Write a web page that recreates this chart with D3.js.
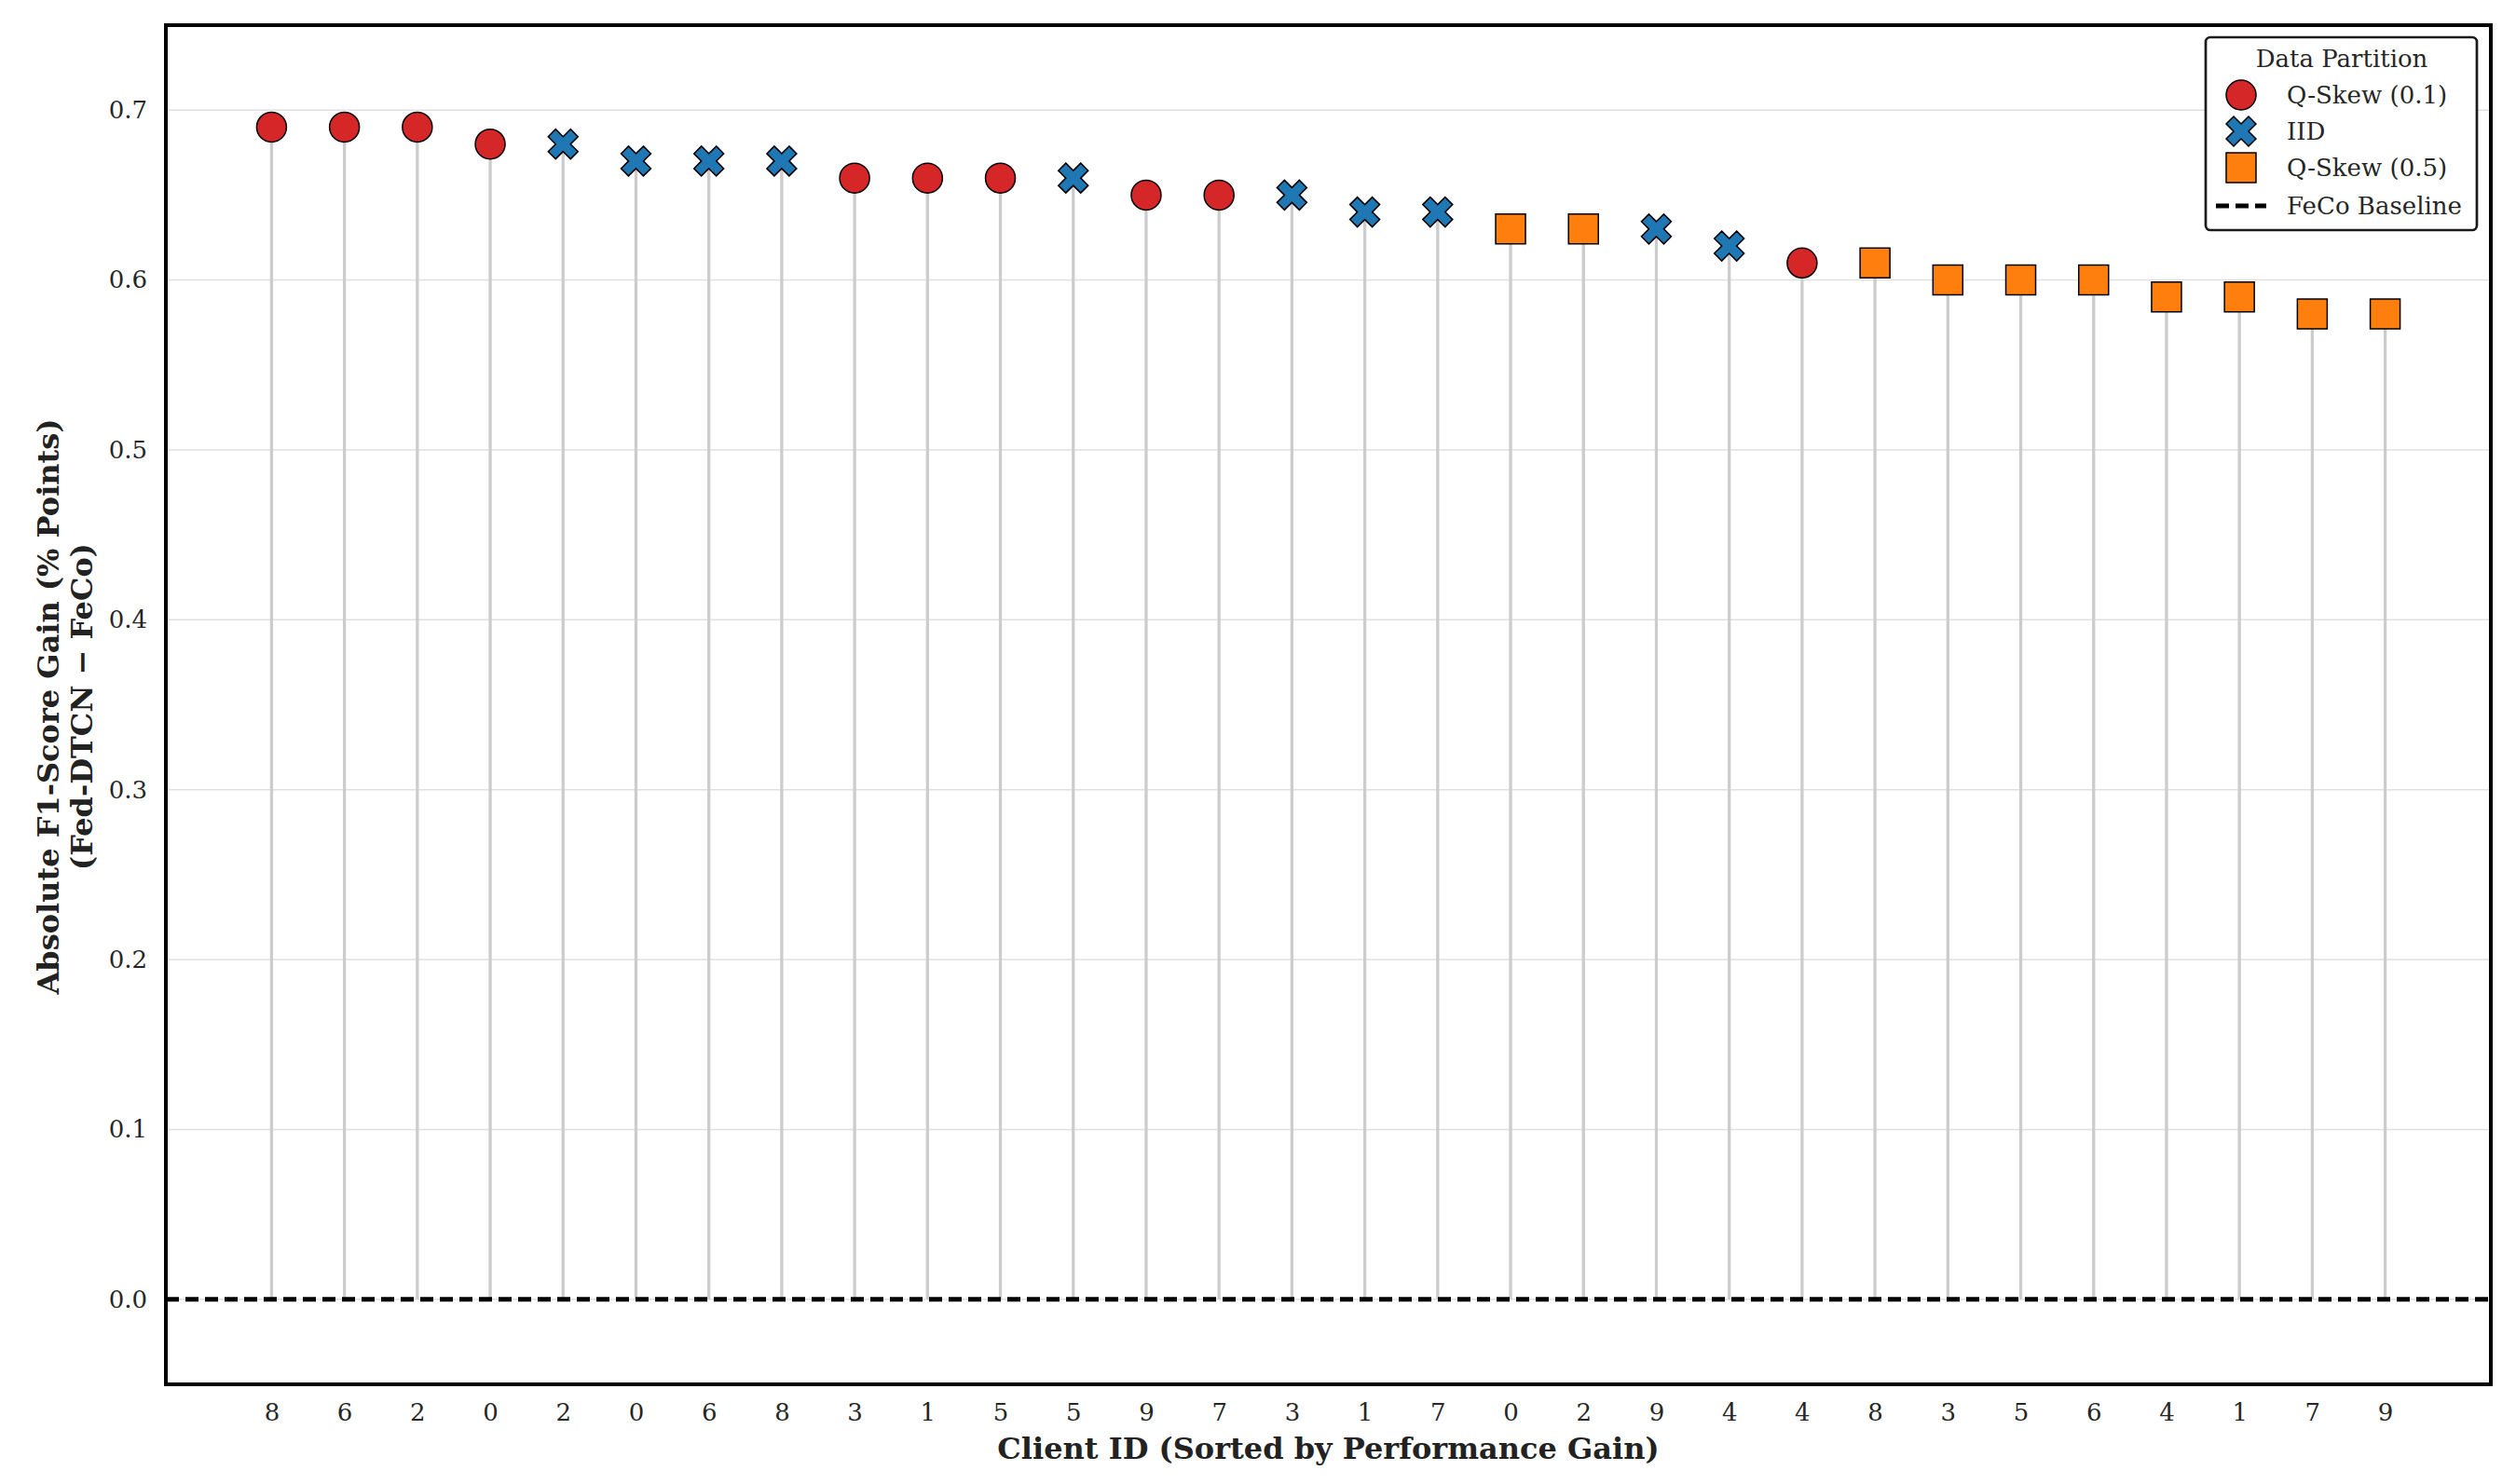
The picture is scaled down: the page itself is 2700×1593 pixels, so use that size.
<!DOCTYPE html>
<html>
<head>
<meta charset="utf-8">
<script src="https://cdn.jsdelivr.net/npm/d3@7"></script>
<style>
  html, body { margin: 0; padding: 0; background: #fff; }
  svg { display: block; }
  text { font-family: "DejaVu Serif", serif; }
</style>
</head>
<body>
<svg id="chart" width="2700" height="1593"></svg>
<script>
// ---- Data ----
const clientIds = [8, 6, 2, 0, 2, 0, 6, 8, 3, 1, 5, 5, 9, 7, 3, 1, 7, 0, 2, 9, 4, 4, 8, 3, 5, 6, 4, 1, 7, 9];
const partitions = ["Q01", "Q01", "Q01", "Q01", "IID", "IID", "IID", "IID", "Q01", "Q01", "Q01", "IID", "Q01", "Q01", "IID",
                    "IID", "IID", "Q05", "Q05", "IID", "IID", "Q01", "Q05", "Q05", "Q05", "Q05", "Q05", "Q05", "Q05", "Q05"];
const gains = [0.69, 0.69, 0.69, 0.68, 0.68, 0.67, 0.67, 0.67, 0.66, 0.66, 0.66, 0.66, 0.65, 0.65, 0.65,
               0.64, 0.64, 0.63, 0.63, 0.63, 0.62, 0.61, 0.61, 0.60, 0.60, 0.60, 0.59, 0.59, 0.58, 0.58];
const yTicks = [0.0, 0.1, 0.2, 0.3, 0.4, 0.5, 0.6, 0.7];
const legendKeys = ["Q01", "IID", "Q05"];
const legendLabels = ["Q-Skew (0.1)", "IID", "Q-Skew (0.5)"];
const baselineLabel = "FeCo Baseline";
const legendTitle = "Data Partition";
const xLabel = "Client ID (Sorted by Performance Gain)";
const yLabelLines = ["Absolute F1-Score Gain (% Points)", "(Fed-DTCN \u2212 FeCo)"];

const colors = { Q01: "#d62728", IID: "#1f77b4", Q05: "#ff7f0e" };
const shapes = { Q01: "circle", IID: "x", Q05: "square" };

// ---- Layout ----
const svg = d3.select("#chart");
const L = 178, R = 2673, T = 27, B = 1486;
const idx = d3.range(clientIds.length);
const x = d3.scaleLinear().domain([-1.45, clientIds.length - 1 + 1.45]).range([L, R]);
const y = d3.scaleLinear().domain([-0.05, 0.75]).range([B, T]);

// grid
svg.append("g").selectAll("line").data(yTicks).join("line")
  .attr("x1", L).attr("x2", R)
  .attr("y1", d => y(d)).attr("y2", d => y(d))
  .attr("stroke", "#e0e0e0").attr("stroke-width", 1.5);

// stems
svg.append("g").selectAll("line").data(idx).join("line")
  .attr("x1", i => x(i)).attr("x2", i => x(i))
  .attr("y1", y(0)).attr("y2", i => y(gains[i]))
  .attr("stroke", "#cccccc").attr("stroke-width", 3.3);

// baseline
svg.append("line")
  .attr("x1", L).attr("x2", R).attr("y1", y(0)).attr("y2", y(0))
  .attr("stroke", "#000").attr("stroke-width", 5)
  .attr("stroke-dasharray", "14,7");

// marker path generator
const S = 32;
function markerPath(shape, s) {
  if (shape === "circle") {
    const r = s / 2;
    return `M${r},0A${r},${r},0,1,1,${-r},0A${r},${r},0,1,1,${r},0Z`;
  }
  if (shape === "square") {
    const h = s / 2;
    return `M${-h},${-h}H${h}V${h}H${-h}Z`;
  }
  // filled X: plus rotated 45deg
  const pts = [[-1,-3],[-1,-1],[-3,-1],[-3,1],[-1,1],[-1,3],[1,3],[1,1],[3,1],[3,-1],[1,-1],[1,-3]];
  const k = s * 1.06 / 6;
  const c = Math.SQRT1_2;
  return "M" + pts.map(([a, b]) => {
    const rx = (a - b) * c * k, ry = (a + b) * c * k;
    return `${rx},${ry}`;
  }).join("L") + "Z";
}

// markers
svg.append("g").selectAll("path").data(idx).join("path")
  .attr("transform", i => `translate(${x(i)},${y(gains[i])})`)
  .attr("d", i => markerPath(shapes[partitions[i]], S))
  .attr("fill", i => colors[partitions[i]])
  .attr("stroke", "#000").attr("stroke-width", 1.5).attr("stroke-linejoin", "miter");

// frame
svg.append("rect").attr("x", L).attr("y", T).attr("width", R - L).attr("height", B - T)
  .attr("fill", "none").attr("stroke", "#000").attr("stroke-width", 4);

// y axis ticks (labels only)
const yAxis = d3.axisLeft(y).tickValues(yTicks).tickFormat(d3.format(".1f")).tickSize(0).tickPadding(20);
const gy = svg.append("g").attr("transform", `translate(${L},0)`).call(yAxis);
gy.select(".domain").remove();
gy.selectAll("text").attr("font-family", "DejaVu Serif").attr("font-size", 26).attr("fill", "#262626");

// x axis ticks
const xAxis = d3.axisBottom(x).tickValues(idx).tickFormat(i => clientIds[i]).tickSize(0).tickPadding(21);
const gx = svg.append("g").attr("transform", `translate(0,${B})`).call(xAxis);
gx.select(".domain").remove();
gx.selectAll("text").attr("font-family", "DejaVu Serif").attr("font-size", 26).attr("fill", "#262626");

// axis labels
svg.append("text").attr("x", (L + R) / 2).attr("y", 1566)
  .attr("text-anchor", "middle").attr("font-size", 32).attr("font-weight", "bold").attr("fill", "#222")
  .text(xLabel);

const yl = svg.append("text").attr("transform", `translate(63,${(T + B) / 2 + 2}) rotate(-90)`)
  .attr("text-anchor", "middle").attr("font-size", 32).attr("font-weight", "bold").attr("fill", "#222");
yLabelLines.forEach((t, i) => yl.append("tspan").attr("x", 0).attr("dy", i === 0 ? 0 : 36).text(t));

// legend
const lg = svg.append("g");
lg.append("rect").attr("x", 2367).attr("y", 40).attr("width", 291).attr("height", 207)
  .attr("rx", 5).attr("fill", "#fff").attr("stroke", "#1a1a1a").attr("stroke-width", 2.7);
lg.append("text").attr("x", 2513).attr("y", 72).attr("text-anchor", "middle")
  .attr("font-size", 26).attr("fill", "#262626").text(legendTitle);
const rowY = [102, 141, 180, 221];
legendKeys.forEach((k, i) => {
  lg.append("path").attr("transform", `translate(2405,${rowY[i]})`)
    .attr("d", markerPath(shapes[k], S)).attr("fill", colors[k])
    .attr("stroke", "#000").attr("stroke-width", 1.5);
  lg.append("text").attr("x", 2454).attr("y", rowY[i] + 9).attr("font-size", 26).attr("fill", "#262626")
    .text(legendLabels[i]);
});
lg.append("line").attr("x1", 2378).attr("x2", 2432).attr("y1", rowY[3]).attr("y2", rowY[3])
  .attr("stroke", "#000").attr("stroke-width", 5).attr("stroke-dasharray", "14,7");
lg.append("text").attr("x", 2454).attr("y", rowY[3] + 9).attr("font-size", 26).attr("fill", "#262626")
  .text(baselineLabel);
</script>
</body>
</html>
